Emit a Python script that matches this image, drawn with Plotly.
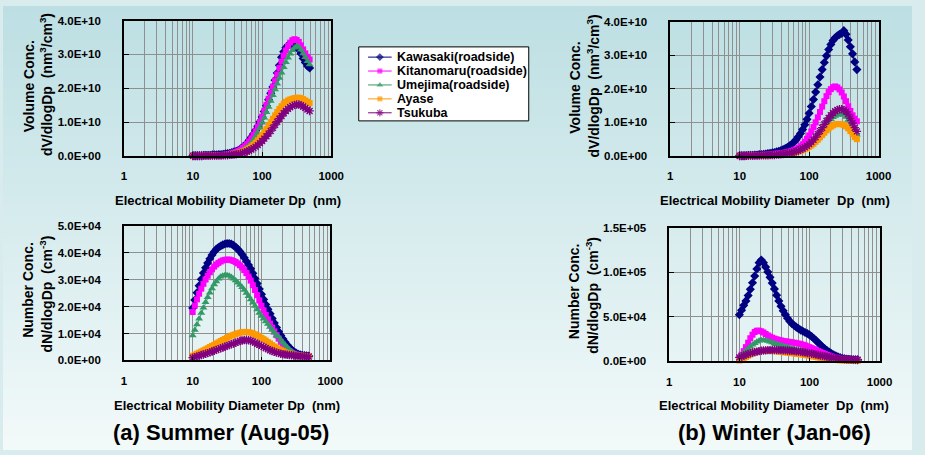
import plotly.graph_objects as go
import numpy as np

# ---------------- data ----------------
DP = [10.0, 10.75, 11.55, 12.41, 13.34, 14.33, 15.40, 16.55, 17.78, 19.11, 20.54,
      22.07, 23.71, 25.48, 27.38, 29.43, 31.62, 33.98, 36.52, 39.24, 42.17,
      45.32, 48.70, 52.33, 56.23, 60.43, 64.94, 69.78, 74.99, 80.58, 86.60, 93.06,
      100.0, 107.5, 115.5, 124.1, 133.4, 143.3, 154.0, 165.5, 177.8, 191.1, 205.4,
      220.7, 237.1, 254.8, 273.8, 294.3, 316.2, 339.8, 365.2, 392.4, 421.7, 453.2, 487.0]

SITES = ["Kawasaki(roadside)", "Kitanomaru(roadside)", "Umejima(roadside)", "Ayase", "Tsukuba"]

# Summer volume, dV/dlogDp in 1E+10 nm3/cm3
KAW_SV = [0.01,0.01,0.01,0.01,0.01,0.02,0.02,0.02,0.02,0.03,0.03,
          0.03,0.04,0.04,0.05,0.06,0.07,0.08,0.10,0.12,0.14,
          0.17,0.21,0.26,0.31,0.38,0.46,0.55,0.65,0.76,0.88,1.01,
          1.15,1.31,1.48,1.66,1.85,2.04,2.24,2.45,2.68,2.92,3.08,
          3.20,3.27,3.30,3.31,3.30,3.24,3.14,3.02,2.88,2.76,2.66,2.60]
KIT_SV = [0.01,0.01,0.01,0.01,0.01,0.01,0.01,0.01,0.01,0.02,0.02,
          0.02,0.02,0.03,0.03,0.04,0.05,0.06,0.08,0.10,0.12,
          0.15,0.19,0.24,0.29,0.35,0.43,0.52,0.62,0.73,0.86,1.00,
          1.16,1.33,1.51,1.69,1.87,2.05,2.23,2.41,2.60,2.79,2.97,
          3.12,3.25,3.35,3.42,3.45,3.43,3.37,3.27,3.15,3.03,2.93,2.85]
UME_SV = [0.00,0.00,0.01,0.01,0.01,0.01,0.01,0.01,0.01,0.01,0.02,
          0.02,0.02,0.02,0.03,0.03,0.04,0.05,0.06,0.07,0.09,
          0.11,0.14,0.17,0.21,0.26,0.32,0.39,0.48,0.58,0.70,0.83,
          0.98,1.13,1.29,1.45,1.62,1.79,1.96,2.13,2.30,2.46,2.62,
          2.77,2.90,3.02,3.12,3.20,3.24,3.22,3.14,3.03,2.92,2.80,2.70]
AYA_SV = [0.00,0.00,0.00,0.00,0.01,0.01,0.01,0.01,0.01,0.01,0.01,
          0.01,0.02,0.02,0.02,0.03,0.03,0.04,0.05,0.06,0.07,
          0.09,0.11,0.13,0.16,0.19,0.23,0.28,0.33,0.39,0.46,0.54,
          0.62,0.71,0.80,0.90,1.00,1.10,1.20,1.30,1.39,1.47,1.54,
          1.60,1.64,1.67,1.69,1.71,1.72,1.72,1.71,1.68,1.64,1.60,1.56]
TSU_SV = [0.00,0.00,0.00,0.00,0.00,0.01,0.01,0.01,0.01,0.01,0.01,
          0.01,0.01,0.01,0.02,0.02,0.02,0.03,0.03,0.04,0.05,
          0.06,0.07,0.09,0.11,0.13,0.16,0.19,0.23,0.27,0.32,0.38,
          0.44,0.51,0.58,0.66,0.74,0.83,0.92,1.01,1.10,1.18,1.26,
          1.33,1.39,1.44,1.48,1.51,1.52,1.52,1.50,1.46,1.42,1.37,1.33]

# Winter volume, dV/dlogDp in 1E+10 nm3/cm3
KAW_WV = [0.01,0.01,0.01,0.01,0.02,0.02,0.02,0.03,0.03,0.04,0.04,
          0.05,0.06,0.07,0.08,0.09,0.10,0.12,0.14,0.16,0.19,
          0.22,0.26,0.30,0.35,0.41,0.48,0.57,0.67,0.79,0.93,1.09,
          1.27,1.47,1.68,1.90,2.12,2.35,2.57,2.78,2.98,3.17,3.32,
          3.44,3.52,3.58,3.62,3.65,3.73,3.62,3.45,3.25,3.04,2.80,2.57]
KIT_WV = [0.01,0.01,0.01,0.01,0.01,0.02,0.02,0.02,0.02,0.03,0.03,
          0.03,0.04,0.04,0.05,0.05,0.06,0.07,0.07,0.08,0.09,
          0.10,0.11,0.13,0.15,0.17,0.20,0.24,0.29,0.35,0.42,0.51,
          0.61,0.73,0.86,1.00,1.15,1.31,1.47,1.63,1.78,1.90,1.99,
          2.05,2.07,2.04,1.98,1.89,1.77,1.63,1.48,1.34,1.21,1.11,1.03]
UME_WV = [0.00,0.00,0.00,0.01,0.01,0.01,0.01,0.01,0.01,0.01,0.02,
          0.02,0.02,0.02,0.03,0.03,0.03,0.04,0.04,0.05,0.05,
          0.06,0.07,0.08,0.09,0.11,0.13,0.15,0.18,0.21,0.24,0.28,
          0.33,0.38,0.44,0.51,0.59,0.67,0.76,0.85,0.94,1.02,1.09,
          1.15,1.19,1.22,1.24,1.24,1.22,1.16,1.07,0.96,0.84,0.73,0.63]
AYA_WV = [0.00,0.00,0.00,0.00,0.00,0.01,0.01,0.01,0.01,0.01,0.01,
          0.01,0.02,0.02,0.02,0.02,0.03,0.03,0.03,0.04,0.04,
          0.05,0.06,0.07,0.08,0.09,0.11,0.13,0.15,0.17,0.20,0.23,
          0.27,0.31,0.36,0.42,0.48,0.55,0.62,0.69,0.76,0.82,0.87,
          0.91,0.94,0.95,0.95,0.94,0.92,0.88,0.82,0.74,0.65,0.56,0.50]
TSU_WV = [0.00,0.00,0.00,0.01,0.01,0.01,0.01,0.01,0.01,0.01,0.02,
          0.02,0.02,0.02,0.03,0.03,0.03,0.04,0.04,0.05,0.06,
          0.07,0.08,0.09,0.10,0.12,0.14,0.16,0.19,0.22,0.26,0.30,
          0.35,0.41,0.48,0.56,0.65,0.74,0.84,0.94,1.04,1.13,1.21,
          1.28,1.33,1.37,1.39,1.39,1.37,1.32,1.24,1.12,0.98,0.84,0.73]

# Summer number, dN/dlogDp in 1E+04 cm-3
KAW_SN = [1.95,2.25,2.52,2.78,3.02,3.25,3.45,3.62,3.78,3.92,4.04,
          4.14,4.20,4.26,4.30,4.33,4.35,4.35,4.33,4.28,4.22,
          4.14,4.05,3.94,3.82,3.69,3.55,3.41,3.24,3.05,2.86,2.66,
          2.46,2.27,2.08,1.90,1.74,1.56,1.39,1.22,1.07,0.93,0.80,
          0.68,0.57,0.48,0.40,0.33,0.28,0.24,0.21,0.19,0.18,0.17,0.16]
KIT_SN = [1.80,2.04,2.27,2.48,2.67,2.85,3.01,3.15,3.28,3.39,3.49,
          3.57,3.63,3.68,3.72,3.74,3.75,3.75,3.73,3.70,3.66,
          3.61,3.54,3.46,3.36,3.25,3.12,2.97,2.80,2.62,2.43,2.23,
          2.03,1.86,1.69,1.53,1.37,1.22,1.08,0.94,0.81,0.69,0.58,
          0.49,0.41,0.34,0.29,0.25,0.22,0.20,0.18,0.17,0.16,0.15,0.15]
UME_SN = [0.93,1.13,1.34,1.55,1.76,1.96,2.16,2.35,2.52,2.68,2.82,
          2.94,3.04,3.11,3.15,3.17,3.17,3.15,3.10,3.04,2.97,
          2.89,2.81,2.72,2.62,2.51,2.39,2.27,2.15,2.02,1.89,1.76,
          1.65,1.55,1.45,1.35,1.24,1.13,1.03,0.93,0.88,0.77,0.67,
          0.58,0.49,0.41,0.34,0.28,0.23,0.19,0.17,0.15,0.14,0.13,0.12]
AYA_SN = [0.17,0.21,0.25,0.29,0.33,0.37,0.41,0.45,0.50,0.54,0.58,
          0.63,0.67,0.72,0.76,0.80,0.84,0.88,0.92,0.95,0.98,
          1.01,1.03,1.05,1.06,1.06,1.05,1.03,1.00,0.97,0.93,0.89,
          0.84,0.79,0.74,0.68,0.63,0.57,0.52,0.47,0.42,0.38,0.34,
          0.30,0.27,0.25,0.23,0.21,0.20,0.19,0.18,0.17,0.17,0.16,0.16]
TSU_SN = [0.10,0.12,0.15,0.17,0.20,0.22,0.25,0.27,0.30,0.33,0.36,
          0.39,0.42,0.45,0.48,0.51,0.54,0.57,0.60,0.63,0.66,
          0.69,0.72,0.74,0.76,0.76,0.75,0.73,0.70,0.66,0.62,0.58,
          0.54,0.50,0.46,0.42,0.38,0.35,0.32,0.29,0.27,0.25,0.23,
          0.22,0.21,0.20,0.19,0.18,0.17,0.16,0.16,0.15,0.15,0.14,0.14]

# Winter number, dN/dlogDp in 1E+04 cm-3
KAW_WN = [5.25,5.75,6.30,6.80,7.40,8.10,8.85,9.60,10.40,11.10,11.40,
          11.10,10.60,10.05,9.45,8.80,8.15,7.45,6.80,6.20,5.70,
          5.25,4.85,4.52,4.25,4.03,3.85,3.68,3.52,3.38,3.25,3.13,
          2.98,2.80,2.58,2.34,2.10,1.86,1.62,1.42,1.23,1.05,0.89,
          0.75,0.62,0.51,0.42,0.35,0.30,0.26,0.23,0.21,0.19,0.18,0.17]
KIT_WN = [0.40,0.75,1.15,1.60,2.10,2.60,3.00,3.30,3.45,3.45,3.38,
          3.25,3.08,2.92,2.78,2.66,2.56,2.48,2.41,2.35,2.30,
          2.26,2.22,2.18,2.14,2.10,2.05,2.00,1.94,1.87,1.79,1.70,
          1.60,1.49,1.38,1.27,1.16,1.05,0.94,0.84,0.74,0.65,0.56,
          0.48,0.41,0.35,0.30,0.26,0.23,0.21,0.19,0.18,0.17,0.16,0.16]
UME_WN = [0.55,0.75,0.97,1.20,1.43,1.65,1.86,2.05,2.20,2.31,2.37,
          2.38,2.35,2.28,2.20,2.11,2.02,1.94,1.86,1.79,1.72,
          1.65,1.58,1.52,1.46,1.40,1.34,1.28,1.22,1.16,1.10,1.04,
          0.98,0.92,0.86,0.80,0.74,0.68,0.62,0.56,0.51,0.46,0.41,
          0.36,0.32,0.28,0.25,0.22,0.20,0.18,0.17,0.16,0.15,0.15,0.14]
AYA_WN = [0.10,0.22,0.36,0.50,0.64,0.77,0.89,0.99,1.07,1.13,1.17,
          1.20,1.21,1.21,1.20,1.18,1.16,1.13,1.10,1.07,1.04,
          1.01,0.98,0.95,0.92,0.89,0.86,0.83,0.80,0.76,0.72,0.68,
          0.64,0.59,0.54,0.49,0.44,0.39,0.35,0.31,0.27,0.24,0.21,
          0.18,0.16,0.14,0.12,0.11,0.10,0.09,0.08,0.08,0.07,0.07,0.07]
TSU_WN = [0.45,0.55,0.65,0.75,0.84,0.92,0.99,1.05,1.10,1.15,1.19,
          1.22,1.24,1.26,1.27,1.28,1.28,1.28,1.27,1.26,1.25,
          1.24,1.22,1.20,1.18,1.16,1.13,1.10,1.07,1.03,0.99,0.95,
          0.91,0.86,0.81,0.76,0.71,0.66,0.61,0.56,0.52,0.48,0.44,
          0.40,0.37,0.34,0.31,0.28,0.26,0.24,0.22,0.21,0.20,0.19,0.18]

VOL_UNIT = 1e10
NUM_UNIT = 1e4

X_TICKS = [1, 10, 100, 1000]
X_LABELS = ["1", "10", "100", "1000"]
X_MINOR = [2, 3, 4, 5, 6, 7, 8, 9, 20, 30, 40, 50, 60, 70, 80, 90,
           200, 300, 400, 500, 600, 700, 800, 900]
VOL_TICKS = [0, 1e10, 2e10, 3e10, 4e10]
VOL_LABELS = ["0.0E+00", "1.0E+10", "2.0E+10", "3.0E+10", "4.0E+10"]
SN_TICKS = [0, 1e4, 2e4, 3e4, 4e4, 5e4]
SN_LABELS = ["0.0E+00", "1.0E+04", "2.0E+04", "3.0E+04", "4.0E+04", "5.0E+04"]
WN_TICKS = [0, 5e4, 1e5, 1.5e5]
WN_LABELS = ["0.0E+00", "5.0E+04", "1.0E+05", "1.5E+05"]

# ---------------- styling ----------------
W, H = 925, 455
FONT = "Liberation Sans, Arial, sans-serif"
COLORS = ["#000080", "#FF00FF", "#339966", "#FF9900", "#800080"]
SYMBOLS = ["diamond", "square", "triangle-up", "square", "asterisk-open"]
MSIZE = [7, 6, 7, 6, 7]


def px_x(p):
    return p / W


def px_y(p):
    return 1 - p / H


# plot-area boxes in pixels (left, top, right, bottom)
BOXES = {
    1: (123, 15, 334, 154),
    2: (123, 226, 333, 364),
    3: (679, 16, 891, 154),
    4: (678, 228, 892, 365),
}

panels = [
    (1, [KAW_SV, KIT_SV, UME_SV, AYA_SV, TSU_SV], VOL_UNIT),
    (2, [KAW_SN, KIT_SN, UME_SN, AYA_SN, TSU_SN], NUM_UNIT),
    (3, [KAW_WV, KIT_WV, UME_WV, AYA_WV, TSU_WV], VOL_UNIT),
    (4, [KAW_WN, KIT_WN, UME_WN, AYA_WN, TSU_WN], NUM_UNIT),
]

fig = go.Figure()

for idx, series, unit in panels:
    xa = "x" if idx == 1 else f"x{idx}"
    ya = "y" if idx == 1 else f"y{idx}"
    for k, vals in enumerate(series):
        mk = dict(symbol=SYMBOLS[k], size=MSIZE[k], color=COLORS[k],
                  line=dict(width=1.3 if SYMBOLS[k].startswith("asterisk") else 0,
                            color=COLORS[k]))
        fig.add_trace(go.Scatter(
            x=DP, y=np.array(vals) * unit, xaxis=xa, yaxis=ya,
            mode="lines+markers", line=dict(color=COLORS[k], width=1),
            marker=mk, showlegend=False, cliponaxis=False,
            name=SITES[k], hoverinfo="skip"))

yinfo = {1: (VOL_TICKS, VOL_LABELS, 4e10), 2: (SN_TICKS, SN_LABELS, 5e4),
         3: (VOL_TICKS, VOL_LABELS, 4e10), 4: (WN_TICKS, WN_LABELS, 1.5e5)}

GRID = "#8f8f8f"
layout = dict(width=W, height=H, margin=dict(l=0, r=0, t=0, b=0),
              paper_bgcolor="#d8ecee", plot_bgcolor="rgba(0,0,0,0)",
              font=dict(family=FONT, color="black"), showlegend=False)

for idx, (l, t, r, b) in BOXES.items():
    xk = "xaxis" if idx == 1 else f"xaxis{idx}"
    yk = "yaxis" if idx == 1 else f"yaxis{idx}"
    ya = "y" if idx == 1 else f"y{idx}"
    xa = "x" if idx == 1 else f"x{idx}"
    tv, tl, ymax = yinfo[idx]
    layout[xk] = dict(domain=[px_x(l), px_x(r)], anchor=ya, type="log", range=[0, 3],
                      tickvals=X_TICKS, ticktext=X_LABELS, ticks="inside", ticklen=4,
                      tickcolor="black", ticklabelstandoff=9,
                      tickfont=dict(size=11.5, weight="bold", family=FONT),
                      showgrid=True, gridcolor=GRID, gridwidth=1,
                      minor=dict(tickvals=X_MINOR, showgrid=True, gridcolor=GRID,
                                 gridwidth=1, ticks=""),
                      showline=True, linecolor="black", linewidth=1.5, mirror=True,
                      zeroline=False, fixedrange=True)
    layout[yk] = dict(domain=[px_y(b), px_y(t)], anchor=xa, range=[0, ymax],
                      tickvals=tv, ticktext=tl, ticks="inside", ticklen=5,
                      tickcolor="black", ticklabelstandoff=19,
                      tickfont=dict(size=11.5, weight="bold", family=FONT),
                      showgrid=True, gridcolor=GRID, gridwidth=1,
                      showline=True, linecolor="black", linewidth=1.5, mirror=True,
                      zeroline=False, fixedrange=True)

# legend axis (pixel coordinates inside the legend box)
LEG = (362, 42, 535, 118)
layout["xaxis5"] = dict(domain=[px_x(LEG[0]), px_x(LEG[2])], range=[LEG[0], LEG[2]],
                        visible=False, anchor="y5", fixedrange=True)
layout["yaxis5"] = dict(domain=[px_y(LEG[3]), px_y(LEG[1])], range=[LEG[3], LEG[1]],
                        visible=False, anchor="x5", fixedrange=True)

shapes = []
# background gradient
top_c = np.array([189, 223, 227])
bot_c = np.array([242, 249, 249])
nb = 65
for i in range(nb):
    f = i / (nb - 1)
    c = (top_c * (1 - f) + bot_c * f).round().astype(int)
    shapes.append(dict(type="rect", xref="paper", yref="paper", x0=0, x1=1,
                       y0=1 - (i + 1) / nb - 0.002, y1=1 - i / nb,
                       fillcolor=f"rgb({c[0]},{c[1]},{c[2]})", line=dict(width=0),
                       layer="below"))
# legend box
shapes.append(dict(type="rect", xref="paper", yref="paper",
                   x0=px_x(LEG[0]), x1=px_x(LEG[2]), y0=px_y(LEG[3]), y1=px_y(LEG[1]),
                   fillcolor="white", line=dict(color="black", width=1), layer="below"))

annotations = []
for k, site in enumerate(SITES):
    ry = 52.5 + 14.3 * k
    fig.add_trace(go.Scatter(
        x=[371.5, 383.5, 395.5], y=[ry, ry, ry], xaxis="x5", yaxis="y5",
        mode="lines+markers", line=dict(color=COLORS[k], width=1),
        marker=dict(symbol=SYMBOLS[k], size=[0, MSIZE[k] - 1, 0], color=COLORS[k],
                    line=dict(width=1.2 if SYMBOLS[k].startswith("asterisk") else 0,
                              color=COLORS[k])),
        showlegend=False, hoverinfo="skip", cliponaxis=False))
    annotations.append(dict(xref="paper", yref="paper", x=px_x(399), y=px_y(ry),
                            xanchor="left", yanchor="middle", showarrow=False,
                            text=site, font=dict(size=12.5, weight="bold", family=FONT)))

BOLD = dict(weight="bold", family=FONT)


def ann(text, x, y, size, angle=0):
    annotations.append(dict(xref="paper", yref="paper", x=px_x(x), y=px_y(y),
                            xanchor="center", yanchor="middle", showarrow=False,
                            text=text, textangle=angle,
                            font=dict(size=size, **BOLD)))


SP = "\u00a0"
VT1 = "Volume Conc."
VT2 = f"dV/dlogDp{SP} (nm<sup>3</sup>/cm<sup>3</sup>)"
NT1 = "Number Conc."
NT2 = f"dN/dlogDp{SP} (cm<sup>-3</sup>)"
XT_L = f"Electrical Mobility Diameter Dp{SP} (nm)"
XT_R = f"Electrical Mobility Diameter{SP} Dp{SP} (nm)"

ann(VT1, 26, 83, 14, -90)
ann(VT2, 44, 81, 14, -90)
ann(NT1, 26, 292, 14, -90)
ann(NT2, 44, 296, 14, -90)
ann(VT1, 582, 84, 14, -90)
ann(VT2, 600, 82, 14, -90)
ann(NT1, 581, 293, 14, -90)
ann(NT2, 600, 297, 14, -90)
ann(XT_L, 229, 200, 13)
ann(XT_L, 228, 410, 13)
ann(XT_R, 786, 200, 13)
ann(XT_R, 785, 410, 13)
ann("(a) Summer (Aug-05)", 222, 438, 22)
ann("(b) Winter (Jan-06)", 785, 438, 22)

layout["shapes"] = shapes
layout["annotations"] = annotations
fig.update_layout(**layout)

fig.write_html("out.html", config={"displayModeBar": False},
               post_script="document.body.style.margin='0';document.body.style.overflow='hidden';")
